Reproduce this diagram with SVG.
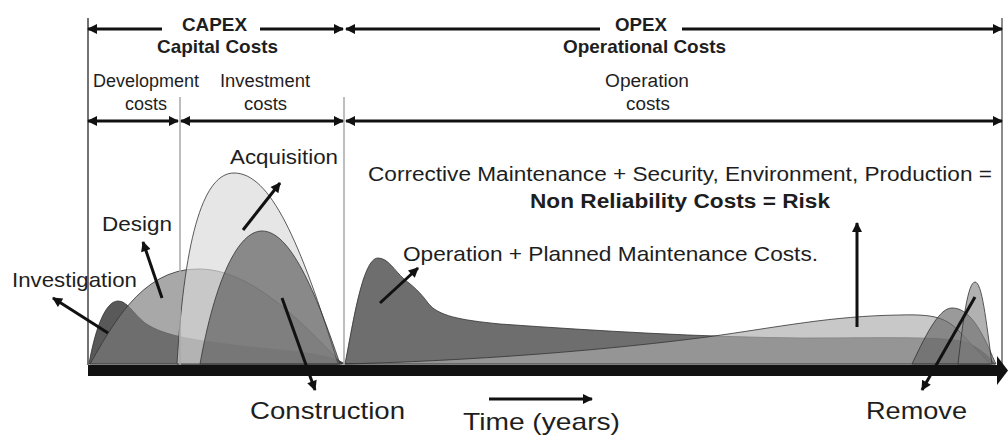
<svg xmlns="http://www.w3.org/2000/svg" width="1008" height="436" viewBox="0 0 1008 436">
<defs>
<style>
text{font-family:"Liberation Sans",Arial,sans-serif;fill:#1e1e1e}
.b{font-weight:bold;font-size:19px}
.s{font-size:18px}
.m{font-size:21px}
.l{font-size:24px}
.curve{stroke:#333;stroke-opacity:.8;stroke-width:1}
.dim{stroke:#111;stroke-width:3;fill:none}
.ptr{stroke:#111;stroke-width:3;fill:none;marker-end:url(#ah)}
.vl{stroke:#a8a8a8;stroke-width:1.5}
</style>
<marker id="ah" viewBox="0 0 10 10" refX="9" refY="5" markerWidth="12" markerHeight="10" markerUnits="userSpaceOnUse" orient="auto-start-reverse">
<path d="M0,0 L10,5 L0,10 z" fill="#111"/>
</marker>
</defs>
<rect width="1008" height="436" fill="#fff"/>

<g id="curve-investigation"><path class="curve" fill="#000" fill-opacity="0.65" d="M89,364 C94,335 104,301 118,301 C127,301 132,312 145,323 C165,337 200,341 250,347 C300,352 330,354 345,364 Z"/></g>
<g id="curve-design"><path class="curve" fill="#797979" fill-opacity="0.65" d="M90,364 C110,330 140,269 197,269 C250,268 300,320 342,364 Z"/></g>
<g id="curve-acquisition"><path class="curve" fill="#d9d9d9" fill-opacity="0.65" d="M177,364 C185,230 205,173 234,173 C270,173 300,240 338,364 Z"/></g>
<g id="curve-construction"><path class="curve" fill="#585858" fill-opacity="0.65" d="M200,364 C215,280 238,231 262,231 C290,231 315,290 340,364 Z"/></g>

<g id="curve-operation"><path class="curve" fill="#202020" fill-opacity="0.65" d="M345,364 C352,330 362,258 378,258 C388,258 394,270 404,279 C414,287 420,292 428,303 C438,316 460,320 500,324 C600,331 700,337 800,338 C880,338 940,336 965,342 C980,348 988,356 995,364 Z"/></g>
<g id="curve-nonreliability"><path class="curve" fill="#ababab" fill-opacity="0.65" d="M345,364 C420,362 560,356 707,337 C780,327 830,316 900,315 C935,314 945,318 958,330 C972,345 982,355 990,364 Z"/></g>
<g id="curve-remove-a"><path class="curve" fill="#646464" fill-opacity="0.65" d="M912,364 C928,330 940,308 952,308 C965,308 975,320 985,340 C990,350 993,358 996,364 Z"/></g>
<g id="curve-remove-b"><path class="curve" fill="#7d7d7d" fill-opacity="0.6" d="M958,364 C963,320 968,282 975,282 C982,282 986,320 992,364 Z"/></g>

<g id="frame">
<line x1="88" y1="18" x2="88" y2="365" stroke="#444" stroke-width="1.5"/>
<line x1="1002" y1="18" x2="1002" y2="365" stroke="#666" stroke-width="1.5"/>
<line class="vl" x1="180" y1="97" x2="180" y2="365"/>
<line class="vl" x1="344" y1="97" x2="344" y2="365"/>
</g>

<g id="axis">
<rect x="88" y="365" width="912" height="11" fill="#111"/>
<polygon points="997,356 1008,370.5 997,385" fill="#111"/>
</g>

<g id="connectors">
<line class="dim" x1="88" y1="29" x2="162" y2="29" marker-start="url(#ah)"/>
<line class="dim" x1="260" y1="29" x2="343" y2="29" marker-end="url(#ah)"/>
<line class="dim" x1="346" y1="29" x2="600" y2="29" marker-start="url(#ah)"/>
<line class="dim" x1="682" y1="29" x2="1002" y2="29" marker-end="url(#ah)"/>
<line class="dim" stroke-width="2.5" x1="88" y1="121" x2="178" y2="121" marker-start="url(#ah)" marker-end="url(#ah)"/>
<line class="dim" stroke-width="2.5" x1="181" y1="121" x2="343" y2="121" marker-start="url(#ah)" marker-end="url(#ah)"/>
<line class="dim" stroke-width="2.5" x1="346" y1="121" x2="1002" y2="121" marker-start="url(#ah)" marker-end="url(#ah)"/>
<line class="ptr" x1="108" y1="333" x2="53" y2="298"/>
<line class="ptr" x1="162" y1="298" x2="143" y2="242"/>
<line class="ptr" x1="243" y1="230" x2="280" y2="183"/>
<line class="ptr" x1="282" y1="298" x2="315" y2="390"/>
<line class="ptr" x1="380" y1="303" x2="418" y2="268"/>
<line class="ptr" x1="857" y1="327" x2="857" y2="223"/>
<line class="ptr" x1="975" y1="297" x2="922" y2="390"/>
<line class="ptr" x1="489" y1="399" x2="592" y2="399"/>
</g>

<g id="label-capex"><text class="b" x="214.5" y="31" text-anchor="middle" textLength="65" lengthAdjust="spacingAndGlyphs">CAPEX</text>
<text class="b" x="217.5" y="53" text-anchor="middle" textLength="121" lengthAdjust="spacingAndGlyphs">Capital Costs</text></g>
<g id="label-opex"><text class="b" x="641" y="31" text-anchor="middle" textLength="52" lengthAdjust="spacingAndGlyphs">OPEX</text>
<text class="b" x="644.5" y="53" text-anchor="middle" textLength="163" lengthAdjust="spacingAndGlyphs">Operational Costs</text></g>
<g id="label-development"><text class="s" x="146" y="87" text-anchor="middle" textLength="106" lengthAdjust="spacingAndGlyphs">Development</text>
<text class="s" x="146" y="110" text-anchor="middle" textLength="42" lengthAdjust="spacingAndGlyphs">costs</text></g>
<g id="label-investment"><text class="s" x="265" y="87" text-anchor="middle" textLength="90" lengthAdjust="spacingAndGlyphs">Investment</text>
<text class="s" x="265.5" y="110" text-anchor="middle" textLength="43" lengthAdjust="spacingAndGlyphs">costs</text></g>
<g id="label-operation-costs"><text class="s" x="647" y="87" text-anchor="middle" textLength="84" lengthAdjust="spacingAndGlyphs">Operation</text>
<text class="s" x="648" y="110" text-anchor="middle" textLength="44" lengthAdjust="spacingAndGlyphs">costs</text></g>
<g id="label-acquisition"><text class="m" x="230" y="164" textLength="108" lengthAdjust="spacingAndGlyphs">Acquisition</text></g>
<g id="label-design"><text class="m" x="102" y="231" textLength="70" lengthAdjust="spacingAndGlyphs">Design</text></g>
<g id="label-investigation"><text class="m" x="12" y="287" textLength="125" lengthAdjust="spacingAndGlyphs">Investigation</text></g>
<g id="label-risk"><text style="font-size:19.5px" x="368" y="181" textLength="624" lengthAdjust="spacingAndGlyphs">Corrective Maintenance + Security, Environment, Production =</text>
<text class="b" style="font-size:20px" x="530" y="208" textLength="300" lengthAdjust="spacingAndGlyphs">Non Reliability Costs = Risk</text></g>
<g id="label-operation"><text class="m" x="403" y="261" textLength="415" lengthAdjust="spacingAndGlyphs">Operation + Planned Maintenance Costs.</text></g>
<g id="label-construction"><text class="l" x="250" y="419" textLength="155" lengthAdjust="spacingAndGlyphs">Construction</text></g>
<g id="label-remove"><text class="l" x="866" y="419" textLength="101" lengthAdjust="spacingAndGlyphs">Remove</text></g>
<g id="label-time"><text class="l" x="463" y="430" textLength="157" lengthAdjust="spacingAndGlyphs">Time (years)</text></g>
</svg>
